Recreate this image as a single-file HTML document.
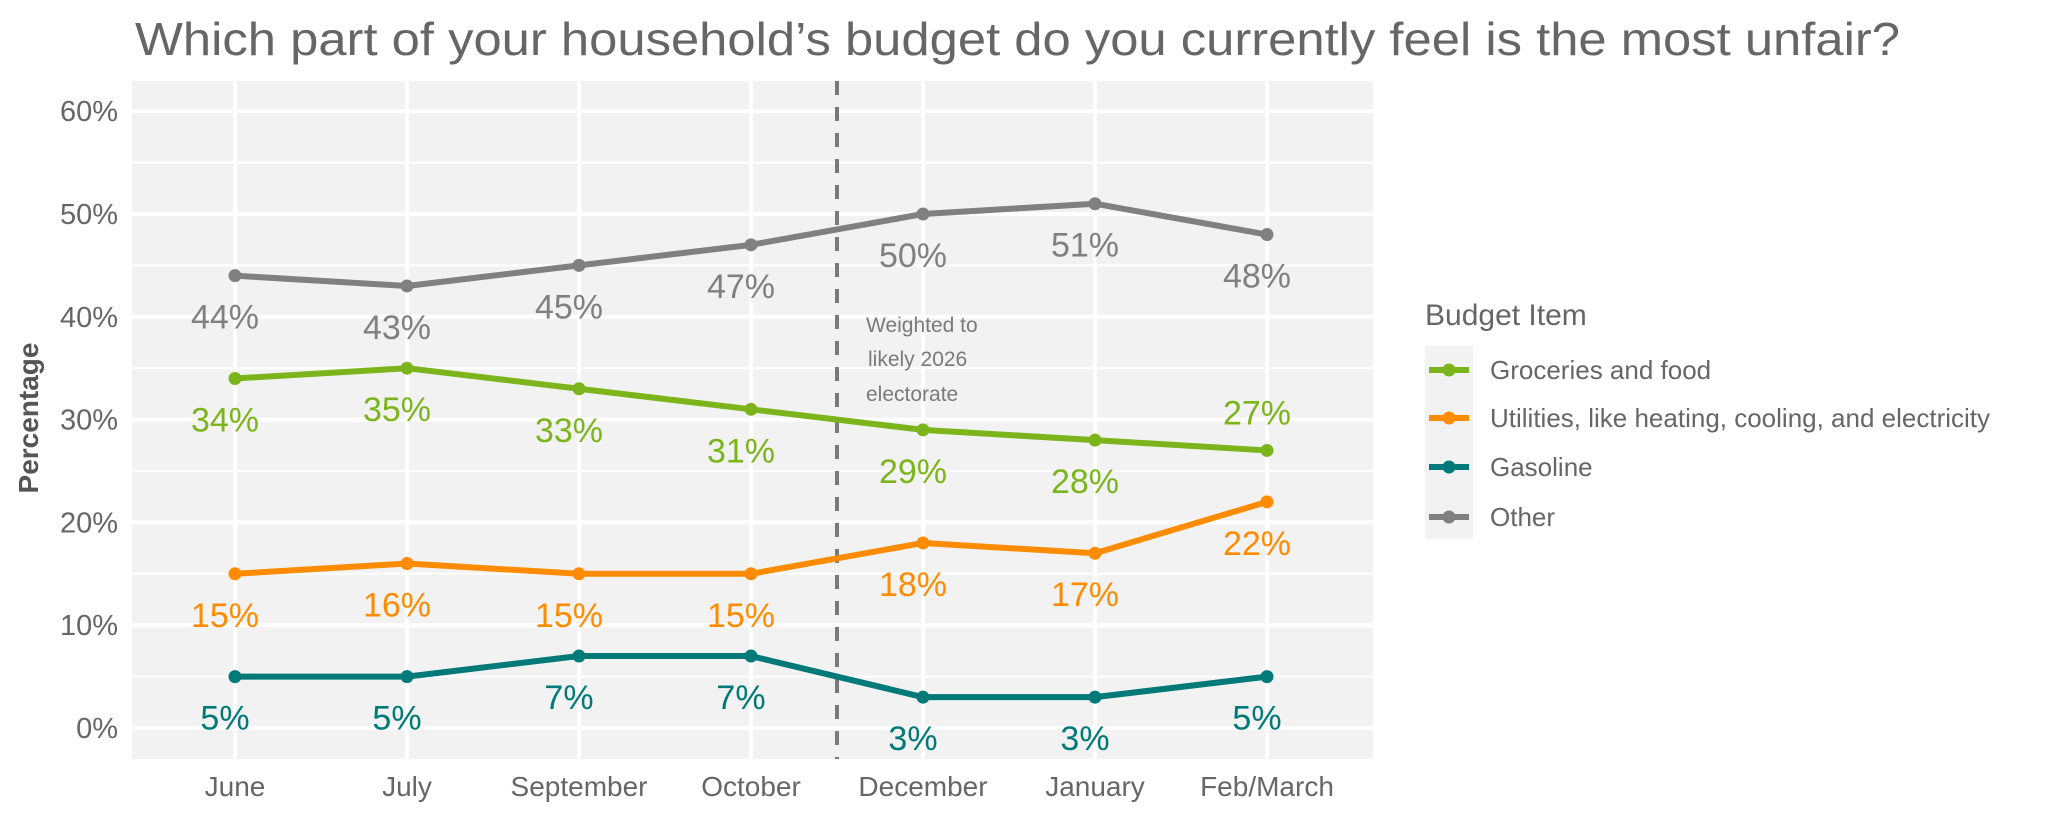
<!DOCTYPE html>
<html><head><meta charset="utf-8"><style>
body{margin:0;background:#fff;}
svg{display:block;font-family:"Liberation Sans",sans-serif;}
</style></head><body>
<svg id="chart" width="2048" height="819" viewBox="0 0 2048 819" xmlns="http://www.w3.org/2000/svg">
<text x="135" y="55" font-size="46" fill="#666" textLength="1765" lengthAdjust="spacingAndGlyphs">Which part of your household’s budget do you currently feel is the most unfair?</text>
<rect x="132" y="81" width="1241" height="678" fill="#f2f2f2"/>
<g id="grid"></g>
<g id="yticks"></g>
<g id="xticks"></g>
<line x1="837" x2="837" y1="81" y2="759" stroke="#7a7a7a" stroke-width="4" stroke-dasharray="14,12"/>
<text font-size="21" fill="#7a7a7a"><tspan x="866" y="332">Weighted to</tspan><tspan x="868" y="366">likely 2026</tspan><tspan x="866" y="401">electorate</tspan></text>
<g id="series"></g>
<text transform="translate(38,418) rotate(-90)" text-anchor="middle" font-size="28" font-weight="bold" fill="#555">Percentage</text>
<text x="1425" y="325" font-size="30" fill="#666">Budget Item</text>
<rect x="1425" y="346" width="48" height="193" fill="#f2f2f2"/>
<g id="legend"></g>
</svg>
<script>
const categories = ["June","July","September","October","December","January","Feb/March"];
const seriesNames = ["Groceries and food","Utilities, like heating, cooling, and electricity","Gasoline","Other"];
const groceries = [34,35,33,31,29,28,27];
const utilities = [15,16,15,15,18,17,22];
const gasoline = [5,5,7,7,3,3,5];
const other = [44,43,45,47,50,51,48];
const yTicks = [0,10,20,30,40,50,60];
const colors = ["#7cb51b","#ff8c00","#007a78","#808080"];
const seriesData = [groceries, utilities, gasoline, other];
const keys = ["groceries","utilities","gasoline","other"];

const NS = "http://www.w3.org/2000/svg";
const xScale = i => 235 + i*172;
const yScale = v => 728 - v*10.28;
function mk(tag, attrs, parent){const e=document.createElementNS(NS,tag);for(const k in attrs)e.setAttribute(k,attrs[k]);parent.appendChild(e);return e;}
const grid=document.getElementById('grid'), yt=document.getElementById('yticks'), xt=document.getElementById('xticks'), sg=document.getElementById('series'), lg=document.getElementById('legend');

for(let v=-5; v<=65; v+=5){
  if(v%10===0) continue;
  const y=yScale(v); if(y<81||y>759) continue;
  const l=mk('line',{x1:132,x2:1373,y1:y,y2:y,stroke:'#fff','stroke-width':2},grid);
  
  
}
yTicks.forEach(v=>{
  const y=yScale(v);
  const l=mk('line',{x1:132,x2:1373,y1:y,y2:y,stroke:'#fff','stroke-width':4},grid);
  
  
  const t=mk('text',{x:118,y:y+10,'text-anchor':'end','font-size':29,fill:'#666'},yt);
  t.textContent=v+'%';
  
  
});
categories.forEach((c,i)=>{
  const x=xScale(i);
  const l=mk('line',{x1:x,x2:x,y1:81,y2:759,stroke:'#fff','stroke-width':4},grid);
  
  
  const t=mk('text',{x:x,y:796,'text-anchor':'middle','font-size':28,fill:'#666'},xt);
  t.textContent=c;
  
  
});
seriesData.forEach((vals,s)=>{
  const g=mk('g',{},sg);
  
  
  const pts=vals.map((v,i)=>xScale(i)+','+yScale(v)).join(' ');
  const pl=mk('polyline',{points:pts,fill:'none',stroke:colors[s],'stroke-width':6,'stroke-linejoin':'round'},g);
  
  
  vals.forEach((v,i)=>{
    const c=mk('circle',{cx:xScale(i),cy:yScale(v),r:6.5,fill:colors[s]},g);
    
    
    const above = (s===0 && i===vals.length-1);
    const t=mk('text',{x:xScale(i)-10,y:yScale(v)+(above?-26:53),'text-anchor':'middle','font-size':34,fill:colors[s]},g);
    t.textContent=v+'%';
    
    
  });
});
const legY=[370,418,467,517];
seriesNames.forEach((n,s)=>{
  const g=mk('g',{},lg);
  
  
  mk('line',{x1:1429,x2:1469,y1:legY[s],y2:legY[s],stroke:colors[s],'stroke-width':6},g);
  mk('circle',{cx:1449,cy:legY[s],r:6.5,fill:colors[s]},g);
  const t=mk('text',{x:1490,y:legY[s]+9,'font-size':26,fill:'#666'},g);
  t.textContent=n;
  
  
});
</script>
</body></html>
